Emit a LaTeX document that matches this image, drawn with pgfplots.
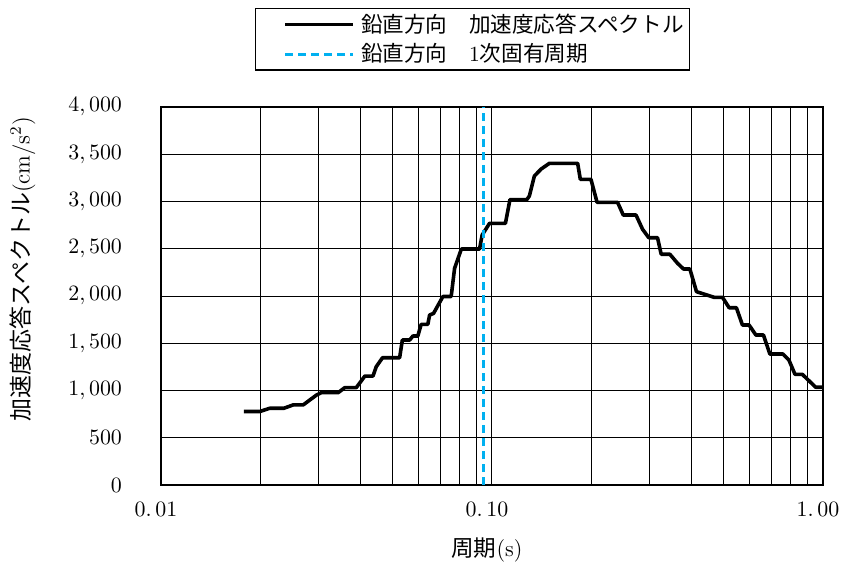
\documentclass[border=0pt]{standalone}
\usepackage{fontspec}
\usepackage{pgfplots}
\pgfplotsset{compat=1.18}
\newfontfamily\jp{Noto Sans CJK JP}
\definecolor{cyanb}{HTML}{00B0F0}
\pgfplotstableread{
T A
0.0178 778
0.0199 778
0.0213 812
0.0235 812
0.0251 848
0.0269 848
0.0295 952
0.0305 977
0.0343 977
0.0359 1030
0.0389 1030
0.0413 1153
0.0437 1153
0.0447 1252
0.0467 1347
0.0526 1347
0.0536 1534
0.0564 1534
0.0577 1577
0.0597 1577
0.0611 1700
0.0640 1700
0.0648 1799
0.0666 1816
0.0711 1995
0.0753 1995
0.0771 2293
0.0808 2497
0.0917 2497
0.0934 2646
0.0983 2769
0.1098 2769
0.1133 3020
0.1274 3020
0.1297 3058
0.1343 3270
0.1408 3344
0.1491 3404
0.1815 3404
0.1849 3235
0.1991 3235
0.2077 2991
0.2396 2991
0.2492 2857
0.2723 2857
0.2851 2706
0.2976 2617
0.3163 2617
0.3245 2442
0.3447 2442
0.3636 2346
0.3790 2286
0.3962 2286
0.4148 2046
0.4690 1986
0.4970 1986
0.5205 1876
0.5475 1876
0.5710 1693
0.5980 1693
0.6270 1587
0.6610 1587
0.6910 1386
0.7570 1386
0.7890 1323
0.8230 1171
0.8660 1171
0.9510 1034
1.0000 1034
}\spectrum
\begin{document}
\begin{tikzpicture}[font=\fontsize{11}{13}\selectfont]
\path[use as bounding box] (-80.5pt,-39.5pt) rectangle (340pt,242.5pt);
\begin{axis}[
  name=ax,
  at={(0pt,0pt)}, anchor=south west,
  scale only axis,
  width=331pt, height=189pt,
  xmode=log, log basis x=10,
  xmin=0.01, xmax=1, ymin=0, ymax=4000,
  xtick={0.01,0.1,1},
  xticklabels={$0.\,01$,$0.\,10$,$1.\,00$},
  minor xtick={0.02,0.03,0.04,0.05,0.06,0.07,0.08,0.09,0.2,0.3,0.4,0.5,0.6,0.7,0.8,0.9},
  ytick={0,500,...,4000},
  scaled y ticks=false,
  grid=both,
  major grid style={black, line width=0.5pt},
  minor grid style={black, line width=0.5pt},
  major tick length=0pt, minor tick length=0pt,
  axis line style={black, line width=1.2pt},
  tick label style={font=\fontsize{11}{13}\selectfont},
  yticklabel style={/pgf/number format/1000 sep={{,}\,}, anchor=east, xshift=-16pt},
  xticklabel style={anchor=center, yshift=-12.25pt, xshift=-2.5pt},
  xlabel={{\jp 周期}(s)},
  ylabel={{\jp 加速度応答スペクトル}(cm/s$^{2}$)},
  xlabel style={at={(axis description cs:0.4924,-0.172)}, anchor=center, font=\fontsize{11.3}{13}\selectfont},
  ylabel style={at={(axis description cs:-0.209,0.571)}, anchor=center, font=\fontsize{11.5}{13}\selectfont},
  legend style={at={(0.142,1.262)}, anchor=north west, draw=black, line width=0.6pt,
    inner xsep=2pt, inner ysep=1.6pt, row sep=2.2pt,
    nodes={inner sep=1pt},
    /tikz/every odd column/.append style={column sep=2pt},
    font=\fontsize{10.8}{12}\selectfont},
  legend cell align=left,
  legend image code/.code={\path (0pt,0pt); \draw[#1] (12pt,0pt) -- (46pt,0pt);},
]
\addplot[black, line width=1.8pt, line join=round] table[x=T, y=A] {\spectrum};
\addlegendentry{{\jp 鉛直方向　加速度応答スペクトル}}
\addplot[cyanb, line width=1.5pt, dash pattern=on 4pt off 2.5pt] coordinates {(0.094,0) (0.094,4000)};
\addlegendentry{{\jp 鉛直方向　}1{\jp 次固有周期}}
\end{axis}
\end{tikzpicture}
\end{document}
